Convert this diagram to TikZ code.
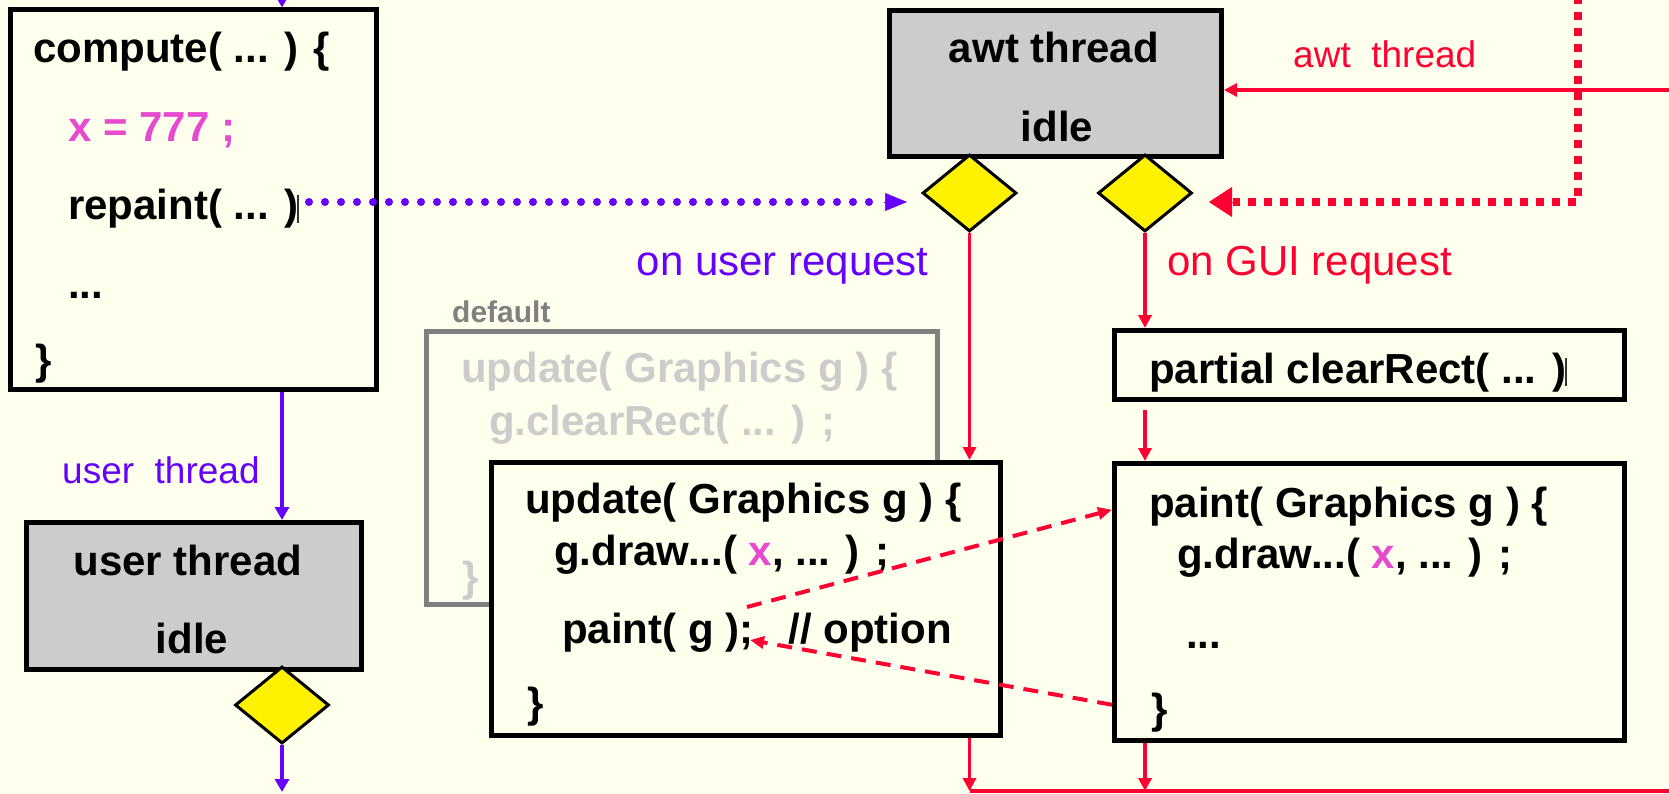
\documentclass[tikz,border=0pt]{standalone}
\usepackage{fontspec}
\setmainfont{Liberation Sans}
\usetikzlibrary{arrows.meta,shapes.geometric}

\definecolor{paper}{HTML}{FFFFEE}
\definecolor{idlegray}{HTML}{CCCCCC}
\definecolor{uviolet}{HTML}{6600FF}
\definecolor{awtred}{HTML}{FF0033}
\definecolor{varpink}{HTML}{E64ACF}
\definecolor{ghostframe}{HTML}{808080}
\definecolor{ghosttext}{HTML}{CCCCCC}

\newcommand{\codefont}{\fontsize{42}{50}\selectfont\bfseries}
\newcommand{\labfont}{\fontsize{42}{50}\selectfont}
\newcommand{\smallfont}{\fontsize{37}{44}\selectfont}
\newcommand{\tagfont}{\fontsize{30}{36}\selectfont\bfseries}
% thin caret-like bar left behind after a closing parenthesis
\newcommand{\caretbar}{\kern-1pt\textcolor{black!80}{\rule[-3pt]{1.6pt}{28pt}}}
\newcommand{\xv}{\textcolor{varpink}{x}}

\tikzset{
  box/.style={rectangle, draw=black, line width=5pt, fill=paper, inner sep=0pt},
  idlebox/.style={box, fill=idlegray},
  ghostbox/.style={rectangle, draw=ghostframe, line width=5pt, fill=paper, inner sep=0pt},
  choice/.style={diamond, draw=black, line width=3pt, fill=yellow, inner sep=0pt,
                 minimum width=94pt, minimum height=77pt},
  code/.style={anchor=base west, inner sep=0pt, font=\codefont},
  ctext/.style={anchor=base, inner sep=0pt, font=\codefont},
  ghostcode/.style={code, text=ghosttext},
  lab/.style={anchor=base west, inner sep=0pt, font=\labfont},
  smalllab/.style={anchor=base west, inner sep=0pt, font=\smallfont},
  vline/.style={draw=uviolet, line width=3.5pt},
  varrow/.style={vline, -{Triangle[length=13pt,width=14pt]}},
  rline/.style={draw=awtred, line width=3.5pt},
  rarrow/.style={rline, -{Triangle[length=13pt,width=13pt]}},
  rdash/.style={draw=awtred, line width=4pt, dash pattern=on 15pt off 10pt,
                -{Triangle[length=14pt,width=12pt]}},
  vdots/.style={draw=uviolet, line width=8pt, line cap=round, dash pattern=on 0pt off 16pt},
  rdots/.style={draw=awtred, line width=8pt, dash pattern=on 8pt off 8pt},
}

\begin{document}
\begin{tikzpicture}[x=1pt, y=-1pt]
\fill[paper] (0,0) rectangle (1669,794);
\useasboundingbox (0,0) rectangle (1669,794);

% ---------------- user thread side ----------------
\node[box, minimum width=366.5pt, minimum height=379.5pt] (compute) at (193.25,199.75) {};
\node[code] (c1) at (33,63)  {compute( ... ) \{};
\node[code, text=varpink] (c2) at (68,142) {x = 777 ;};
\node[code] (c3) at (68,220) {repaint( ... )\caretbar};
\node[code] (c4) at (68,298) {...};
\node[code] (c5) at (35,374) {\}};

\node[idlebox, minimum width=335pt, minimum height=147pt] (user) at (194,596) {};
\node[ctext] (u1) at (188,575) {user thread};
\node[ctext] (u2) at (192,653) {idle};
\node[choice] (d3) at (282,705) {};

\node[smalllab, text=uviolet] (ulab) at (62,483) {user~~thread};

\coordinate (topin) at (282,-2);
\coordinate (userout) at (282,792);
\draw[varrow] (topin) -- (topin |- compute.north);
\draw[varrow] (compute.south -| d3) -- (user.north -| d3);
\draw[varrow] (d3.south) -- (userout);

% ---------------- awt thread side ----------------
\node[idlebox, minimum width=332pt, minimum height=146pt] (awt) at (1055.5,83.5) {};
\node[ctext] (a1) at (1054,63)  {awt thread};
\node[ctext] (a2) at (1057,142) {idle};
\node[choice] (d1) at (969.5,193) {};
\node[choice] (d2) at (1145,193) {};

\node[smalllab, text=awtred] (alab) at (1293,68) {awt~~thread};
\node[lab, text=uviolet] (userreq) at (636.5,275) {on user request};
\node[lab, text=awtred] (guireq) at (1167,275) {on GUI request};

% default update(), partly hidden behind the overriding one
\node[ghostbox, minimum width=511pt, minimum height=273pt] (default) at (682,468) {};
\node[anchor=base west, inner sep=0pt, font=\tagfont, text=ghostframe] (dlab) at (452,322) {default};
\node[ghostcode] (g1) at (461,382) {update( Graphics g ) \{};
\node[ghostcode] (g2) at (489,435) {g.clearRect( ... ) ;};
\node[ghostcode] (g3) at (462,591) {\}};

\node[box, minimum width=509pt, minimum height=273pt] (update) at (746,599) {};
\node[code] (p1) at (525,513) {update( Graphics g ) \{};
\node[code] (p2) at (554,565) {g.draw...( \xv, ... ) ;};
\node[code] (p3) at (562,643) {paint( g );\ \ \ // option};
\node[code] (p4) at (527,717) {\}};

\node[box, minimum width=510pt, minimum height=69pt] (clear) at (1369.5,365) {};
\node[code] (k1) at (1149,383) {partial clearRect( ... )\caretbar};

\node[box, minimum width=510pt, minimum height=276.5pt] (paint) at (1369.5,601.75) {};
\node[code] (q1) at (1149,517) {paint( Graphics g ) \{};
\node[code] (q2) at (1177,568) {g.draw...( \xv, ... ) ;};
\node[code] (q3) at (1186,648) {...};
\node[code] (q4) at (1151,723) {\}};

% solid awt flow
\coordinate (awtin) at (1669,90);
\coordinate (floor) at (1669,791);
\draw[rarrow] (awtin) -- (awtin -| awt.east);
\draw[rarrow] (d1.south) -- (d1.south |- update.north);
\draw[rarrow] (d2.south) -- (d2.south |- clear.north);
\draw[rarrow, shorten <=8pt] (clear.south -| d2) -- (paint.north -| d2);
\draw[rarrow] (update.south -| d1) -- (d1 |- floor);
\draw[rarrow] (paint.south -| d2) -- (d2 |- floor);
\draw[rline] (d1 |- floor) -- (floor);

% repaint request, carried by the user thread
\coordinate (rpout) at (309,202);
\coordinate (rpbase) at (884,202);
\coordinate (rpin) at (907,202);
\draw[vdots] (rpout) -- (rpbase);
\draw[draw=uviolet, line width=0.5pt, -{Triangle[length=22pt,width=18pt]}] (rpbase) -- (rpin);

% GUI request coming in from outside
\coordinate (guitop) at (1578,-4);
\coordinate (guicorner) at (1578,202);
\coordinate (guibase) at (1233,202);
\coordinate (guiin) at (1209,202);
\draw[rdots] (guitop) -- (guicorner) -- (guibase);
\draw[draw=awtred, line width=0.5pt, -{Triangle[length=23pt,width=30pt]}] (guibase) -- (guiin);

% update() may delegate to paint()
\coordinate (semitop) at (747,607);
\coordinate (semi) at (750,640);
\draw[rdash] (semitop) -- ([yshift=92pt]paint.west);
\draw[rdash] ([yshift=-103pt]paint.west) -- (semi);
\end{tikzpicture}
\end{document}
